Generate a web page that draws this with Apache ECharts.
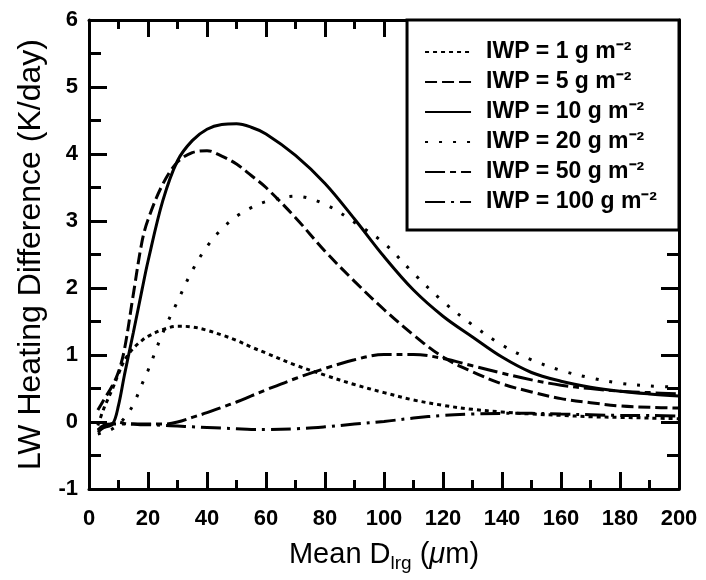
<!DOCTYPE html>
<html><head><meta charset="utf-8">
<script src="https://cdn.jsdelivr.net/npm/echarts@6/dist/echarts.min.js"></script>
<style>html,body{margin:0;padding:0;background:#fff}#c{width:706px;height:580px}</style>
</head><body><div id="c"></div>
<script>
const dValues = [3,5,8,10,12,15,18,20,25,30,35,40,45,50,55,60,70,80,90,100,110,120,130,140,150,160,170,180,190,200];
const iwpLabels = ['IWP = 1 g m\u207B\u00B2','IWP = 5 g m\u207B\u00B2','IWP = 10 g m\u207B\u00B2','IWP = 20 g m\u207B\u00B2','IWP = 50 g m\u207B\u00B2','IWP = 100 g m\u207B\u00B2'];
const iwp1   = [-0.05,0.2,0.5,0.72,0.92,1.1,1.22,1.28,1.38,1.43,1.42,1.37,1.3,1.22,1.12,1.03,0.85,0.7,0.56,0.44,0.33,0.25,0.19,0.15,0.12,0.1,0.08,0.07,0.06,0.05];
const iwp5   = [0.18,0.33,0.55,0.75,1.08,1.9,2.7,3.02,3.55,3.88,4.02,4.05,3.97,3.85,3.68,3.5,3.05,2.55,2.1,1.68,1.3,0.97,0.75,0.57,0.45,0.35,0.29,0.24,0.22,0.21];
const iwp10  = [-0.12,-0.08,-0.03,0.25,0.7,1.33,1.98,2.4,3.3,3.9,4.2,4.37,4.44,4.45,4.4,4.3,3.98,3.56,3.03,2.47,1.97,1.58,1.27,0.97,0.74,0.61,0.52,0.46,0.42,0.39];
const iwp20  = [-0.18,-0.15,-0.1,-0.03,0.06,0.26,0.57,0.77,1.33,1.8,2.26,2.62,2.88,3.07,3.2,3.29,3.37,3.25,2.98,2.67,2.22,1.8,1.45,1.15,0.93,0.77,0.66,0.58,0.54,0.52];
const iwp50  = [-0.15,-0.08,-0.02,0,-0.02,-0.03,-0.03,-0.03,-0.03,0,0.07,0.14,0.22,0.3,0.39,0.48,0.65,0.8,0.93,1.01,1.01,0.95,0.84,0.73,0.63,0.55,0.5,0.46,0.44,0.42];
const iwp100 = [-0.12,-0.05,-0.03,-0.03,-0.03,-0.03,-0.04,-0.04,-0.05,-0.06,-0.07,-0.08,-0.09,-0.1,-0.11,-0.11,-0.1,-0.07,-0.03,0.01,0.06,0.1,0.12,0.13,0.13,0.12,0.11,0.1,0.1,0.09];
const seriesValues = [iwp1, iwp5, iwp10, iwp20, iwp50, iwp100];
const dashTypes = [[4,4],[12,5],'solid',[3,11],[20,5,6,5],[20,6,3,6]];
const xTicks = {min:0, max:200, interval:20};
const yTicks = {min:-1, max:6, interval:1};

const chart = echarts.init(document.getElementById('c'));
function labelFont(margin){ return {show:true, margin:margin, fontFamily:'Liberation Sans', fontWeight:'bold', fontSize:22, color:'#000'}; }
function axisLine(zeroIdx){ return {show:true, onZero:true, onZeroAxisIndex:zeroIdx, lineStyle:{color:'#000', width:3}}; }
function xAx(pos, show, zeroIdx){
  return {type:'value', position:pos, min:xTicks.min, max:xTicks.max, interval:xTicks.interval,
    axisLine:axisLine(zeroIdx), splitLine:{show:false},
    axisTick:{show:true, inside:true, length:17, lineStyle:{color:'#000', width:3}},
    minorTick:{show:true, splitNumber:2, length:9, lineStyle:{color:'#000', width:3}},
    axisLabel: show ? labelFont(19) : {show:false},
    name: show ? 'Mean D{sub|lrg} ({mu|μ}m)' : '',
    nameLocation:'middle', nameGap:44,
    nameTextStyle:{fontFamily:'Liberation Sans', fontSize:29, color:'#000', lineHeight:40,
      rich:{sub:{fontFamily:'Liberation Sans', fontSize:19, verticalAlign:'bottom', lineHeight:19, padding:[0,0,2,0]},
            mu:{fontFamily:'Liberation Sans', fontSize:29, fontStyle:'italic'}}}
  };
}
function yAx(pos, show, zeroIdx){
  return {type:'value', position:pos, min:yTicks.min, max:yTicks.max, interval:yTicks.interval,
    axisLine:axisLine(zeroIdx), splitLine:{show:false},
    axisTick:{show:true, inside:true, length:18, lineStyle:{color:'#000', width:3}},
    minorTick:{show:true, splitNumber:2, length:12, lineStyle:{color:'#000', width:3}},
    axisLabel: show ? labelFont(11) : {show:false},
    name: show ? 'LW Heating Difference (K/day)' : '',
    nameLocation:'middle', nameGap:38,
    nameTextStyle:{fontFamily:'Liberation Sans', fontSize:32, color:'#000'}
  };
}
// hidden helper axes whose zero sits on the frame edges (used only to anchor the visible axes)
function hiddenX(min, max){ return {type:'value', show:false, min:min, max:max, axisLine:{onZero:false}}; }
function hiddenY(min, max){ return {type:'value', show:false, min:min, max:max, axisLine:{onZero:false}}; }
const series = seriesValues.map((vals, i) => ({
  name: iwpLabels[i],
  type:'line',
  xAxisIndex:0, yAxisIndex:0,
  data: dValues.map((d, j) => [d, vals[j]]),
  showSymbol:false, symbol:'none',
  smooth:0.35,
  lineStyle:{color:'#000', width:3, type:dashTypes[i], cap:'butt'},
  itemStyle:{color:'#000'},
  z: 5
}));
chart.setOption({
  animation:false,
  backgroundColor:'#fff',
  grid:{left:89, right:27, top:20, bottom:90},
  xAxis:[xAx('bottom', true, 2), xAx('top', false, 3), hiddenX(0, 1), hiddenX(-1, 0)],
  yAxis:[yAx('left', true, 2), yAx('right', false, 3), hiddenY(0, 1), hiddenY(-1, 0)],
  legend:{
    show:true,
    orient:'vertical', right:27, top:20,
    backgroundColor:'#fff', borderColor:'#000', borderWidth:3,
    padding:[20,22,16,17], itemGap:6, itemWidth:46, itemHeight:14,
    itemStyle:{opacity:0},
    textStyle:{fontFamily:'Liberation Sans', fontWeight:'bold', fontSize:23, color:'#000', lineHeight:24, padding:[0,0,0,10]},
    data: iwpLabels
  },
  series: series
});
</script></body></html>
